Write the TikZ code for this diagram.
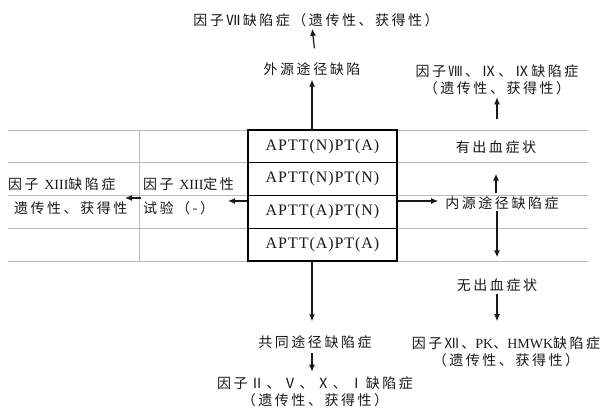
\documentclass[tikz,border=0pt]{standalone}
\usepackage{fontspec}
\setmainfont{Liberation Serif}
\newfontfamily\cjk{Noto Sans CJK SC}[LetterSpace=18]
\newfontfamily\aptfont{Liberation Serif}[LetterSpace=6]
\usetikzlibrary{arrows.meta}
\begin{document}
\begin{tikzpicture}[x=1pt,y=-1pt,
  txt/.style={inner sep=0pt, font=\cjk\fontsize{14}{17}\selectfont, text=black!90, align=center},
  aptt/.style={draw=black, line width=1.1pt, minimum width=149pt, minimum height=32.75pt, inner sep=0pt, font=\aptfont\fontsize{16}{18}\selectfont, text=black!90},
  arr/.style={-{Latex[length=7pt,width=6pt]}, line width=1.2pt, black!90},
  gridline/.style={draw=gray!55, line width=0.7pt}]
\useasboundingbox[fill=white] (0,0) rectangle (612,409);
% table grid
\foreach \yy in {130,162.75,195.5,228.25,261} \draw[gridline] (8,\yy) -- (588,\yy);
\draw[gridline] (139,130) -- (139,261);
% central box
\node[aptt] (r1) at (322.5,146.4) {APTT(N)PT(A)};
\node[aptt] (r2) at (322.5,179.1) {APTT(N)PT(N)};
\node[aptt] (r3) at (322.5,211.9) {APTT(A)PT(N)};
\node[aptt] (r4) at (322.5,244.6) {APTT(A)PT(A)};
% texts
\node[txt] (f7) at (316,20) {因子Ⅶ缺陷症（遗传性、获得性）};
\node[txt] (ext) at (312,69) {外源途径缺陷};
\node[txt] (f8) at (497,79.5) {因子Ⅷ、Ⅸ、Ⅸ缺陷症\\（遗传性、获得性）};
\node[txt] (bleed) at (496,147) {有出血症状};
\node[txt] (intr) at (502,203) {内源途径缺陷症};
\node[txt] (nobleed) at (497,285) {无出血症状};
\node[txt] (f12) at (506,351.5) {因子Ⅻ、{\rmfamily PK}、{\rmfamily HMWK}缺陷症\\（遗传性、获得性）};
\node[txt] (common) at (315,342) {共同途径缺陷症};
\node[txt] (f2) at (315,392) {因子Ⅱ、Ⅴ、Ⅹ、Ⅰ缺陷症\\（遗传性、获得性）};
\node[txt, anchor=west] (t1a) at (8,184) {因子 {\rmfamily XIII}缺陷症};
\node[txt, anchor=west] (t1b) at (14,208.5) {遗传性、获得性};
\node[txt, anchor=west] (t2a) at (143,184) {因子 {\rmfamily XIII}定性};
\node[txt, anchor=west] (t2b) at (143,208) {试验（-）};
\coordinate (tipA) at (228,201);
\coordinate (tipB) at (125,198);
% arrows
\draw[arr, shorten <=14pt, shorten >=2pt] (ext.north -| f7) -- (f7.south -| ext);
\draw[arr, shorten >=4pt] (r1.north -| ext) -- (ext.south);
\draw[arr, shorten <=21pt, shorten >=2.5pt] (bleed.north -| f8) -- (f8.south);
\draw[arr, shorten <=3pt, shorten >=20pt] (intr.north -| bleed) -- (bleed.south);
\draw[arr, shorten >=7pt] (r3.east |- tipA) -- (intr.west |- tipA);
\draw[arr, shorten <=1pt, shorten >=21pt] (intr.south -| nobleed) -- (nobleed.north);
\draw[arr, shorten <=2pt, shorten >=15pt] (nobleed.south) -- (f12.north -| nobleed);
\draw[arr, shorten >=14pt] (r4.south -| ext) -- (common.north -| ext);
\draw[arr, shorten <=4pt, shorten >=5pt] (common.south -| ext) -- (f2.north -| ext);
\draw[arr] (r3.west |- tipA) -- (tipA);
\draw[arr, shorten <=2pt] (t2a.west |- tipB) -- (tipB);
\end{tikzpicture}
\end{document}
